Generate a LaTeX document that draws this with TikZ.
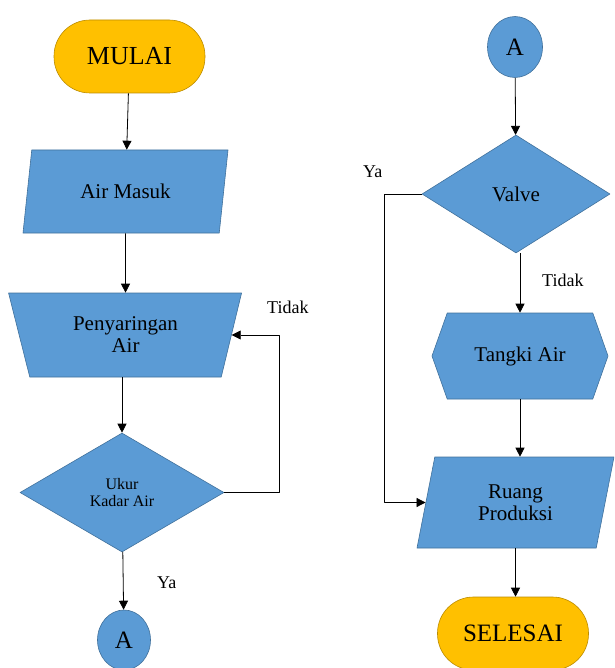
\documentclass[tikz,border=0pt]{standalone}
\usepackage{fontspec}
\setmainfont{Liberation Serif}
\usetikzlibrary{arrows.meta,shapes.geometric,shapes.symbols}
\definecolor{flowBlue}{HTML}{5B9BD5}
\definecolor{flowBlueLine}{HTML}{41719C}
\definecolor{flowGold}{HTML}{FFC000}
\definecolor{flowGoldLine}{HTML}{BC8C00}

\begin{document}
\begin{tikzpicture}[x=1pt,y=-1pt,>={Triangle[length=9pt,width=9pt]},line join=round]
\useasboundingbox (0,0) rectangle (614,668);
\clip (0,0) rectangle (614,668);
\tikzset{terminal/.style={draw=flowGoldLine,fill=flowGold,line width=0.6pt,rounded corners=36pt,minimum width=151pt,minimum height=73pt,font=\fontsize{26}{28}\selectfont},
  box/.style={draw=flowBlueLine,fill=flowBlue,line width=0.6pt,inner sep=2pt,align=center,font=\fontsize{21}{22}\selectfont},
  iobox/.style={box,trapezium,trapezium stretches body,trapezium left angle=65,trapezium right angle=115},
  filterbox/.style={box,trapezium,trapezium stretches body,trapezium left angle=118,trapezium right angle=117},
  decision/.style={box,diamond,inner sep=0pt},
  storebox/.style={box,signal,signal to=east and west,signal pointer angle=141},
  connector/.style={box,ellipse,inner sep=0pt,font=\fontsize{25}{27}\selectfont},
  flow/.style={draw=black,line width=0.8pt,->},
  note/.style={anchor=west,inner sep=0pt,font=\fontsize{18}{20}\selectfont}}
% kolom kiri
\node[terminal] (mulai) at (129.5,56.5) {MULAI};
\node[iobox,minimum width=205pt,minimum height=83pt] (masuk) at (125.5,191.5) {Air Masuk};
\node[filterbox,minimum width=233pt,minimum height=84pt] (saring) at (125.5,335) {Penyaringan\\Air};
\node[decision,minimum width=204pt,minimum height=119pt,font=\fontsize{16}{17}\selectfont] (ukur) at (122,492.5) {Ukur\\Kadar Air};
\node[connector,minimum width=53pt,minimum height=60pt] (a1) at (124,640) {A};
\draw[flow] (mulai) -- (masuk);
\draw[flow] (masuk) -- (saring);
\draw[flow] (saring.south -| ukur.north) -- (ukur.north);
\draw[flow] (ukur.east) -- ++(55,0) |- (saring.east);
\draw[flow] (ukur) -- (a1);
\node[note] (tidak1) at (267,307) {Tidak};
\node[note] (ya1) at (157,583) {Ya};
% kolom kanan
\node[connector,minimum width=55pt,minimum height=61pt] (a2) at (515,47) {A};
\node[decision,minimum width=188pt,minimum height=118pt] (valve) at (516,194) {Valve};
\node[storebox,minimum width=176pt,minimum height=86pt] (tangki) at (520,356) {Tangki Air};
\node[iobox,minimum width=197pt,minimum height=91pt,trapezium left angle=66,trapezium right angle=114] (ruang) at (515.5,502.5) {Ruang\\Produksi};
\node[terminal,font=\fontsize{25}{27}\selectfont] (selesai) at (513,633.5) {SELESAI};
\draw[flow] (a2) -- (valve);
\draw[flow] (valve.south -| tangki.north) -- (tangki.north);
\draw[flow] (tangki.south) -- (tangki.south |- ruang.north);
\draw[flow] (ruang.south) -- (ruang.south |- selesai.north);
\draw[flow] (valve.west) -- ++(-37,0) |- (ruang.west);
\node[note] (ya2) at (363,172) {Ya};
\node[note] (tidak2) at (542,280) {Tidak};
\end{tikzpicture}
\end{document}
